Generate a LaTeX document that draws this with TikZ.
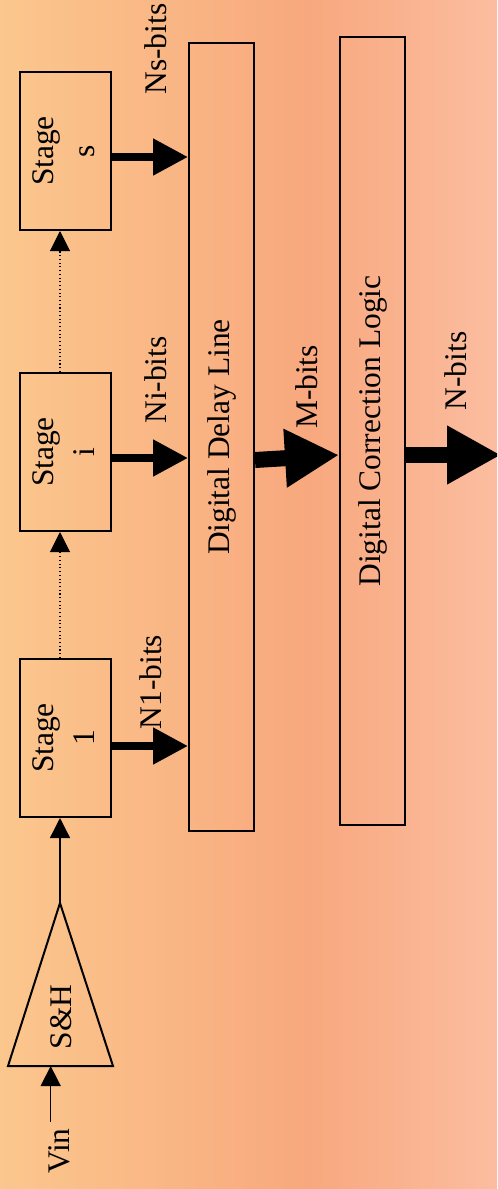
\documentclass[tikz,border=0pt]{standalone}
\usepackage{fontspec}
\setmainfont{Liberation Serif}
\usetikzlibrary{arrows.meta}
\definecolor{bgA}{HTML}{FBC78D}
\definecolor{bgB}{HTML}{F8A87E}
\definecolor{bgC}{HTML}{FBBDA0}
\pgfdeclarehorizontalshading{bgshade}{100bp}{color(0bp)=(bgA); color(25bp)=(bgA); color(56bp)=(bgB); color(75bp)=(bgC); color(100bp)=(bgC)}
\tikzset{
  every node/.style={font=\fontsize{23.6}{30.7}\selectfont, text=black},
  lbl/.style={rotate=90, inner sep=0pt},
  stagebox/.style={draw, line width=1.5pt, minimum width=68.25pt, minimum height=118.5pt, inner sep=0pt},
  longbox/.style={draw, line width=1.5pt, minimum width=48.75pt, minimum height=591pt, inner sep=0pt},
  thinarrow/.style={line width=1.1pt, -{Triangle[length=15pt,width=15pt]}},
  dotarrow/.style={line width=0.8pt, dotted, -{Triangle[length=15pt,width=15pt]}},
  bitarrow/.style={line width=6pt, -{Triangle[length=26.25pt,width=26.25pt]}},
  busarrow/.style={line width=12pt, -{Triangle[length=40.5pt,width=41.25pt]}}
}
\begin{document}
\begin{tikzpicture}[x=0.75pt, y=-0.75pt]
\useasboundingbox (0,0) rectangle (497,1189);
\clip (0,0) rectangle (497,1189);
\shade[shading=bgshade] (0,0) rectangle (497,1189);

% stages
\node[stagebox] (sts) at (65.5,151) {\rotatebox{90}{\begin{tabular}{@{}c@{}}Stage\\s\end{tabular}}};
\node[stagebox] (sti) at (65.5,452) {\rotatebox{90}{\begin{tabular}{@{}c@{}}Stage\\i\end{tabular}}};
\node[stagebox] (st1) at (65.5,738) {\rotatebox{90}{\begin{tabular}{@{}c@{}}Stage\\1\end{tabular}}};

% long boxes
\node[longbox] (dl) at (221.5,437) {\rotatebox{90}{Digital Delay Line}};
\node[longbox] (cl) at (372.5,431) {\rotatebox{90}{Digital Correction Logic}};

% S&H triangle
\coordinate (apex) at (60,903);
\coordinate (bl) at (8,1066);
\coordinate (br) at (113,1066);
\draw[line width=1.5pt, line join=miter] (apex) -- (br) -- (bl) -- cycle;
\node[lbl] (sh) at (61,1017) {S\&H};

% Vin
\node[lbl] (vin) at (59,1151) {Vin};
\coordinate (vinA) at (50.7,1122);
\draw[thinarrow] (vinA) -- (vinA |- bl);

% chain
\draw[thinarrow] (apex) -- (apex |- st1.south);
\draw[dotarrow] (apex |- st1.north) -- (apex |- sti.south);
\draw[dotarrow] (apex |- sti.north) -- (apex |- sts.south);

% bit arrows
\draw[bitarrow] ([yshift=-4.5pt]sts.east) -- ([yshift=-4.5pt]sts.east -| dl.west);
\draw[bitarrow] ([yshift=-4.5pt]sti.east) -- ([yshift=-4.5pt]sti.east -| dl.west);
\draw[bitarrow] ([yshift=-6pt]st1.east) -- ([yshift=-6pt]st1.east -| dl.west);
\node[lbl] (lns) at (156,49) {Ns-bits};
\node[lbl] (lni) at (156,380) {Ni-bits};
\node[lbl] (ln1) at (151,682) {N1-bits};

% bus arrows
\draw[busarrow] ([yshift=-17.25pt]dl.east) -- ([yshift=-18pt]cl.west);
\coordinate (nend) at (501,455);
\draw[busarrow] ([yshift=-18pt]cl.east) -- (nend);
\node[lbl] (lm) at (307,387) {M-bits};
\node[lbl] (lnb) at (456,371) {N-bits};
\end{tikzpicture}
\end{document}
